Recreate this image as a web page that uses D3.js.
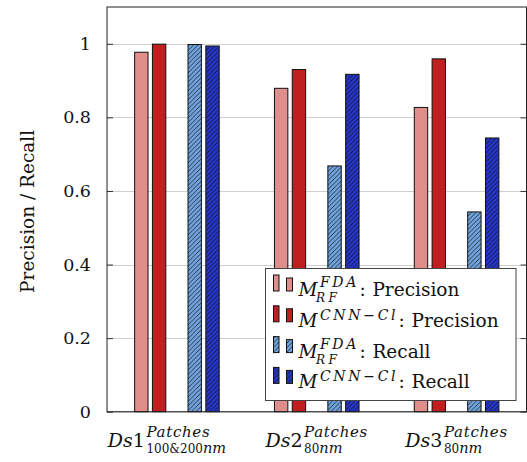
<!DOCTYPE html>
<html>
<head>
<meta charset="utf-8">
<script src="https://cdn.jsdelivr.net/npm/d3@7"></script>
<style>
  body { margin: 0; background: #fff; }
  svg { display: block; }
  text { font-family: 'DejaVu Serif', serif; fill: #111; }
</style>
</head>
<body>
<svg></svg>
<script>
// Data

const groups = ['Ds1', 'Ds2', 'Ds3']
const groupSubs = ['100&200', '80', '80']
const seriesKeys = ['fdaPrecision', 'cnnPrecision', 'fdaRecall', 'cnnRecall']
const fdaPrecision = [0.977, 0.879, 0.827]
const cnnPrecision = [0.999, 0.930, 0.959]
const fdaRecall = [0.998, 0.668, 0.543]
const cnnRecall = [0.994, 0.917, 0.744]
const yTicks = [0, 0.2, 0.4, 0.6, 0.8, 1]

const seriesValues = {fdaPrecision, cnnPrecision, fdaRecall, cnnRecall}
const seriesStyle = {
  fdaPrecision: {fill: '#e08e8b', hatch: false, sup: 'FDA', sub: 'RF', what: 'Precision'},
  cnnPrecision: {fill: '#c01f1f', hatch: false, sup: 'CNN\u2212Cl', sub: null, what: 'Precision'},
  fdaRecall: {fill: '#6fa4de', hatch: true, sup: 'FDA', sub: 'RF', what: 'Recall'},
  cnnRecall: {fill: '#2535c8', hatch: true, sup: 'CNN\u2212Cl', sub: null, what: 'Recall'},
}

// Layout

const width = 527
const height = 462
const plot = {left: 107, right: 526.5, top: 7, bottom: 411.7}
const barWidth = 13.4
// first tick label sits a little left of its group in the original
const firstLabelNudge = -10

const svg = d3.select('svg')
    .attr('width', width)
    .attr('height', height)

const defs = svg.append('defs')

const x = d3.scaleBand(groups, [plot.left, plot.right])
const slot = d3.scalePoint(['fdaPrecision', 'cnnPrecision', 'gap', 'fdaRecall', 'cnnRecall'], [-35.6, 35.6])
const y = d3.scaleLinear([0, 1.1], [plot.bottom, plot.top])

// hatch patterns, one per colour
seriesKeys.filter(k => seriesStyle[k].hatch).forEach(k => {
  const p = defs.append('pattern')
      .attr('id', 'hatch-' + k)
      .attr('patternUnits', 'userSpaceOnUse')
      .attr('width', 4.5)
      .attr('height', 4.5)
  p.append('rect')
      .attr('width', 4.5)
      .attr('height', 4.5)
      .attr('fill', seriesStyle[k].fill)
  p.append('path')
      .attr('d', 'M0,4.5L4.5,0M-1,1L1,-1M3.5,5.5L5.5,3.5')
      .attr('stroke', '#111')
      .attr('stroke-width', 0.75)
})

const fillOf = k => seriesStyle[k].hatch ? `url(#hatch-${k})` : seriesStyle[k].fill

// Grid

svg.append('g')
    .attr('class', 'grid')
  .selectAll('line')
  .data(yTicks)
  .join('line')
    .attr('x1', plot.left)
    .attr('x2', plot.right)
    .attr('y1', d => Math.round(y(d)) + 0.5)
    .attr('y2', d => Math.round(y(d)) + 0.5)
    .attr('stroke', '#cfcfcf')
    .attr('stroke-width', 1)

// Bars

const barData = []
seriesKeys.forEach(k => {
  groups.forEach((g, i) => barData.push({key: k, group: g, value: seriesValues[k][i]}))
})

svg.append('g')
    .attr('class', 'bars')
  .selectAll('rect')
  .data(barData)
  .join('rect')
    .attr('x', d => x(d.group) + x.bandwidth() / 2 + slot(d.key) - barWidth / 2)
    .attr('y', d => y(d.value))
    .attr('width', barWidth)
    .attr('height', d => y(0) - y(d.value))
    .attr('fill', d => fillOf(d.key))
    .attr('stroke', '#111')
    .attr('stroke-width', 1)

// Axes frame + ticks

const axisLeft = d3.axisLeft(y).tickValues(yTicks).tickSize(-6).tickPadding(16)
    .tickFormat(d => d === 0 || d === 1 ? d3.format('d')(d) : d3.format('.1f')(d))
const gy = svg.append('g')
    .attr('transform', `translate(${plot.left},0)`)
    .call(axisLeft)
gy.select('.domain').remove()
gy.selectAll('line').attr('stroke', '#333')
gy.selectAll('text')
    .attr('font-family', 'DejaVu Serif')
    .attr('font-size', 17.5)
    .attr('fill', '#111')

const axisRight = d3.axisRight(y).tickValues(yTicks).tickSize(-6).tickFormat('')
const gr = svg.append('g')
    .attr('transform', `translate(${plot.right},0)`)
    .call(axisRight)
gr.select('.domain').remove()
gr.selectAll('line').attr('stroke', '#333')

svg.append('rect')
    .attr('x', plot.left)
    .attr('y', plot.top)
    .attr('width', plot.right - plot.left)
    .attr('height', plot.bottom - plot.top)
    .attr('fill', 'none')
    .attr('stroke', '#222')
    .attr('stroke-width', 1)

// Y label

svg.append('text')
    .attr('transform', `translate(34,${(plot.top + plot.bottom) / 2 + 2}) rotate(-90)`)
    .attr('text-anchor', 'middle')
    .attr('font-size', 18.5)
    .text('Precision / Recall')

// X labels: Ds1^{Patches}_{100&200nm}

groups.forEach((g, i) => {
  const lab = svg.append('g')
  const main = lab.append('text')
      .attr('y', 447)
      .attr('font-size', 19)
  main.append('tspan').attr('font-style', 'italic').text(g.slice(0, 2))
  main.append('tspan').text(g.slice(2))
  const w = main.node().getComputedTextLength() + 1.5
  const sup = lab.append('text')
      .attr('x', w)
      .attr('y', 437)
      .attr('font-size', 15)
      .attr('letter-spacing', 0.7)
      .attr('font-style', 'italic')
      .text('Patches')
  const sub = lab.append('text')
      .attr('x', w)
      .attr('y', 453)
  sub.append('tspan').attr('font-size', 12).text(groupSubs[i])
  sub.append('tspan').attr('font-size', 14.5).attr('font-style', 'italic').text('nm')
  const total = w + Math.max(sup.node().getComputedTextLength(), sub.node().getComputedTextLength())
  const nudge = i === 0 ? firstLabelNudge : 0
  lab.attr('transform', `translate(${x(g) + x.bandwidth() / 2 - total / 2 + nudge},0)`)
})

// Legend

const legend = svg.append('g')
    .attr('class', 'legend')

legend.append('rect')
    .attr('x', 265.5)
    .attr('y', 268.5)
    .attr('width', 250.5)
    .attr('height', 132)
    .attr('fill', '#fff')
    .attr('stroke', '#444')
    .attr('stroke-width', 1)

seriesKeys.forEach((k, i) => {
  const st = seriesStyle[k]
  const base = 296 + i * 30.8
  const row = legend.append('g')

  row.append('rect')
      .attr('x', 273.5)
      .attr('y', base - 21)
      .attr('width', 5.5)
      .attr('height', 16)
      .attr('fill', fillOf(k))
      .attr('stroke', '#111')
  row.append('rect')
      .attr('x', 286.5)
      .attr('y', base - 18)
      .attr('width', 6)
      .attr('height', 13)
      .attr('fill', fillOf(k))
      .attr('stroke', '#111')

  // one text element, scripts as tspans
  const t = row.append('text')
      .attr('y', base)
      .attr('font-size', 18.5)
  const m = t.append('tspan')
      .attr('x', 298.5)
      .attr('font-style', 'italic')
      .text('M')
  const mx = 298.5 + m.node().getComputedTextLength() + 2.5
  const sup = t.append('tspan')
      .attr('x', mx)
      .attr('y', st.sub ? base - 9 : base - 7)
      .attr('font-size', 14)
      .attr('letter-spacing', 2.7)
      .attr('font-style', 'italic')
      .text(st.sup)
  let endX = mx + sup.node().getComputedTextLength() - 2.7
  if (st.sub) {
    const sub = t.append('tspan')
        .attr('x', mx - 4)
        .attr('y', base + 6)
        .attr('font-size', 12)
        .attr('letter-spacing', 3.5)
        .attr('font-style', 'italic')
        .text(st.sub)
    endX = Math.max(endX, mx - 4 + sub.node().getComputedTextLength() - 3.5)
  }
  t.append('tspan')
      .attr('x', endX + 3)
      .attr('y', base)
      .text(':')
  t.append('tspan')
      .attr('x', endX + 16)
      .attr('y', base)
      .text(st.what)
})
</script>
</body>
</html>
